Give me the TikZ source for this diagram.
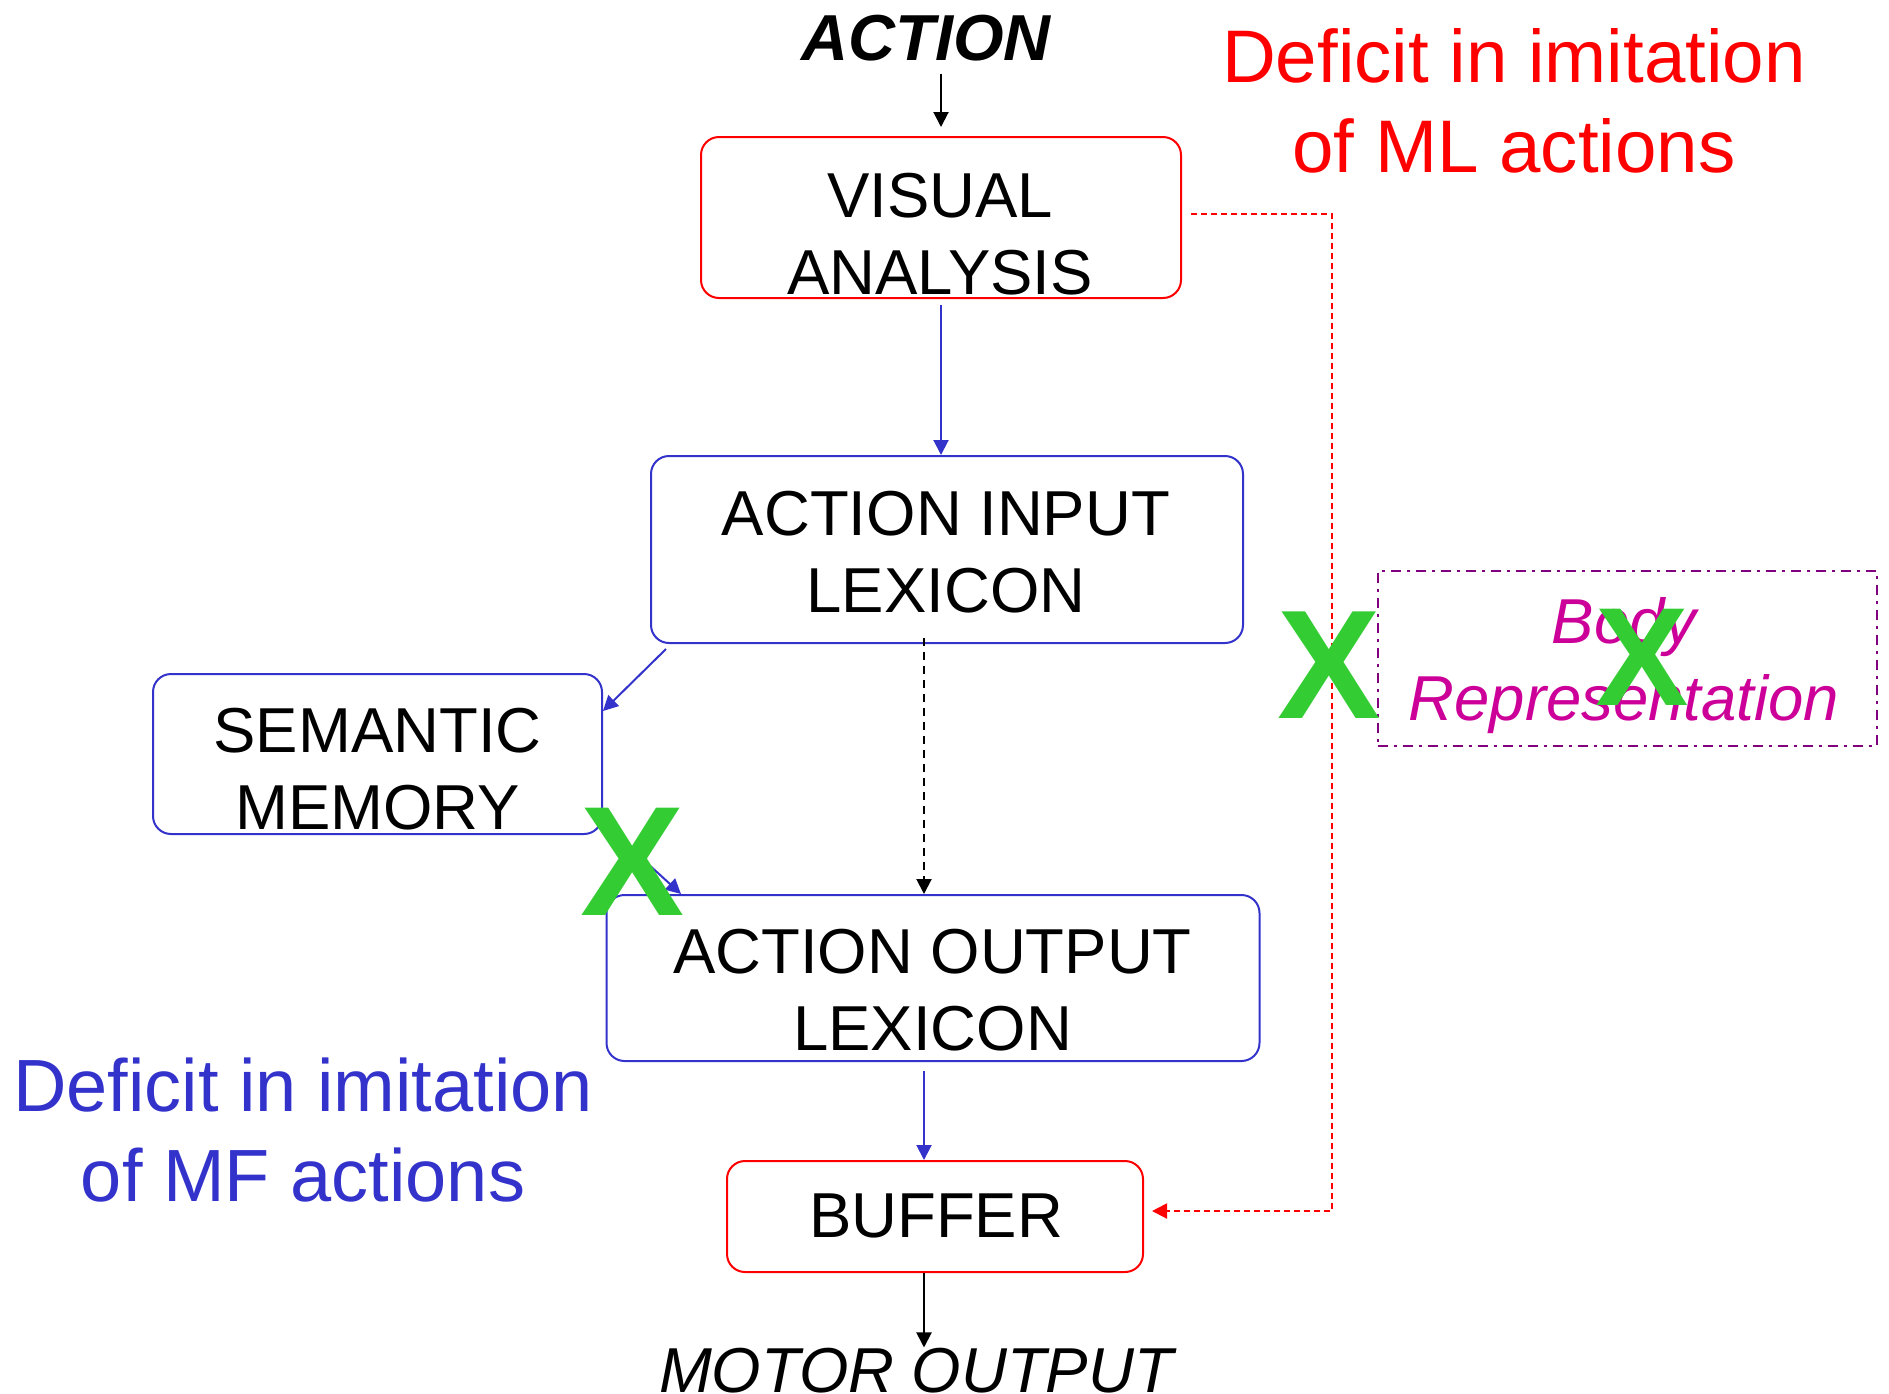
\documentclass[tikz,border=0pt]{standalone}
\usepackage{fontspec}
\setmainfont{Liberation Sans}
\usetikzlibrary{arrows.meta}

\definecolor{pathred}{HTML}{FF0000}
\definecolor{pathblue}{HTML}{3333CC}
\definecolor{crossgreen}{HTML}{33CC33}
\definecolor{bodypurple}{HTML}{800080}
\definecolor{bodytext}{HTML}{CC0099}

% two centred lines whose baseline is the first line
\newcommand{\twoline}[2]{\vtop{\halign{\hfil##\hfil\cr#1\cr#2\cr}}}

\tikzset{
  stagebox/.style={draw, line width=2pt, rounded corners=18pt, inner sep=0pt},
  boxlabel/.style={inner sep=0pt, anchor=base, font=\fontsize{63.5}{77}\selectfont},
  tip/.style={-{Triangle[length=15pt,width=15pt]}},
  flow/.style={tip, line width=2pt},
  crossmark/.style={inner sep=0pt, anchor=base, text=crossgreen},
}

\begin{document}
\begin{tikzpicture}[x=1pt, y=-1pt]
\useasboundingbox (0,0) rectangle (1889,1393);

% processing stages
\node[stagebox, draw=pathred,  minimum width=480pt, minimum height=161pt] (va)  at (941,217.5) {};
\node[stagebox, draw=pathblue, minimum width=592pt, minimum height=187pt] (ail) at (947,549.5) {};
\node[stagebox, draw=pathblue, minimum width=449pt, minimum height=160pt] (sm)  at (377.5,754) {};
\node[stagebox, draw=pathblue, minimum width=653pt, minimum height=166pt] (aol) at (933,978) {};
\node[stagebox, draw=pathred,  minimum width=416pt, minimum height=111pt] (buf) at (935,1216.5) {};
\node[draw=bodypurple, line width=2pt, dash pattern=on 10pt off 6pt on 3pt off 6pt,
      minimum width=499pt, minimum height=175pt, inner sep=0pt] (body) at (1627,658.5) {};

% stage labels
\node[boxlabel] (vatext)  at (940,217)   {\twoline{VISUAL}{ANALYSIS}};
\node[boxlabel] (ailtext) at (946,535)   {\twoline{ACTION INPUT}{LEXICON}};
\node[boxlabel] (smtext)  at (377.5,752) {\twoline{SEMANTIC}{MEMORY}};
\node[boxlabel] (aoltext) at (932.5,973) {\twoline{ACTION OUTPUT}{LEXICON}};
\node[boxlabel] (buftext) at (936,1237)  {BUFFER};
\node[boxlabel, text=bodytext, font=\fontsize{63.5}{77}\selectfont\itshape] (bodytextnode) at (1624,643)
  {\twoline{Body}{Representation}};

% input and output
\node[inner sep=0pt, anchor=base, font=\fontsize{65}{77}\selectfont\bfseries\itshape] (action) at (926,60) {ACTION};
\node[inner sep=0pt, anchor=base, font=\fontsize{63.5}{77}\selectfont\itshape] (motor) at (916,1392) {MOTOR OUTPUT};

% deficit captions
\node[inner sep=0pt, anchor=base, text=pathred, font=\fontsize{74.5}{90}\selectfont] (mlnote) at (1514,82)
  {\twoline{Deficit in imitation}{of ML actions}};
\node[inner sep=0pt, anchor=base, text=pathblue, font=\fontsize{74}{90}\selectfont] (mfnote) at (303,1111)
  {\twoline{Deficit in imitation}{of MF actions}};

% connectors
\draw[flow, black, shorten <=13pt, shorten >=9pt] (va.north |- action.south) -- (va.north);
\draw[flow, pathblue, shorten <=6pt] (va.south) -- (va.south |- ail.north);
\draw[flow, pathblue] ([xshift=16pt,yshift=-5pt]ail.south west) -- ([yshift=-38pt]sm.north east);
\draw[flow, pathblue] ([yshift=12pt]sm.south east) -- ([xshift=75.5pt]aol.north west);
\draw[flow, black, dash pattern=on 8pt off 6pt, shorten <=-6pt]
  ([xshift=-23pt]ail.south) -- ([xshift=-23pt]ail.south |- aol.north);
\draw[flow, pathblue, shorten <=9pt] ([xshift=-9pt]aol.south) -- ([xshift=-9pt]aol.south |- buf.north);
\draw[flow, black] ([xshift=-11pt]buf.south) -- ([xshift=-11pt]buf.south |- motor.north);

% direct route from visual analysis to the buffer
\coordinate (mlroute) at (1332,0);
\coordinate (bufin) at ([xshift=8pt,yshift=5.5pt]buf.east);
\draw[flow, pathred, dash pattern=on 6pt off 4pt]
  ([xshift=9pt,yshift=3.5pt]va.east) -| (mlroute |- bufin) -- (bufin);

% lesion marks
\node[crossmark, font=\fontsize{155}{155}\selectfont\bfseries] (cross1) at (1329,718) {X};
\node[crossmark, font=\fontsize{140}{140}\selectfont\bfseries] (cross2) at (1642,705) {X};
\node[crossmark, font=\fontsize{156}{156}\selectfont\bfseries] (cross3) at (633,915) {X};
\end{tikzpicture}
\end{document}
